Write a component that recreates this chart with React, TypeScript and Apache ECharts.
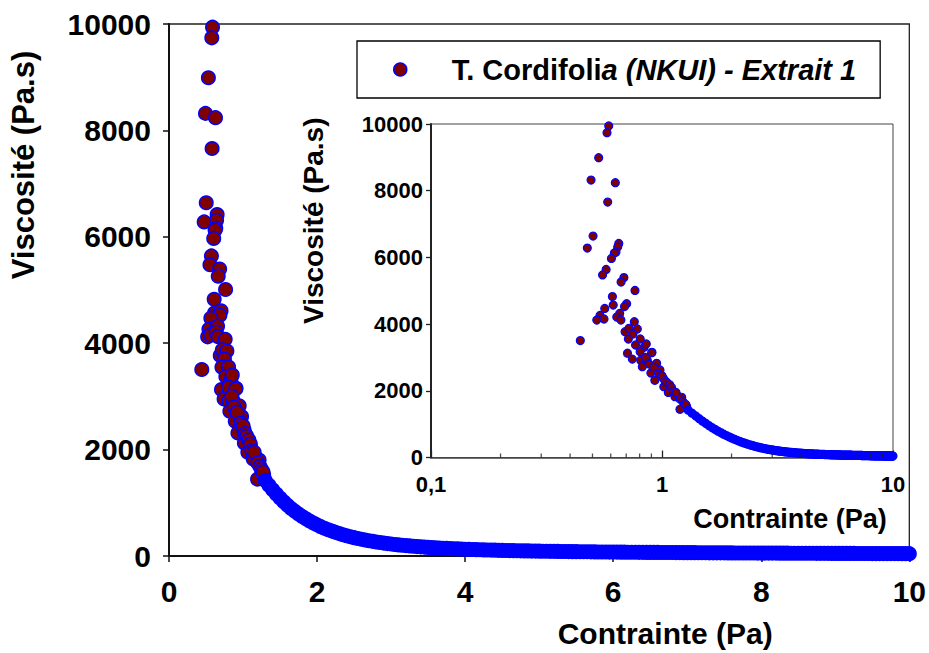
import React, { useEffect, useRef } from 'react';
import * as echarts from 'echarts';

const FONT = "'Liberation Sans', Arial, sans-serif";

// Tick labels
const mainXTicks = ['0', '2', '4', '6', '8', '10'];
const mainYTicks = ['0', '2000', '4000', '6000', '8000', '10000'];
const insetXTicks = ['0,1', '1', '10'];
const insetMinorTicks = [0.2, 0.3, 0.4, 0.5, 0.6, 0.7, 0.8, 0.9, 2, 3, 4, 5, 6, 7, 8, 9];

const seriesName = 'T. Cordifolia (NKUI) - Extrait 1';

// Low-stress scattered measurements (Contrainte, Pa)
const scatterX = [
  0.588, 0.578, 0.532, 0.493, 0.628, 0.582, 0.503, 0.475, 0.650, 0.643,
  0.632, 0.622, 0.604, 0.573, 0.553, 0.684, 0.665, 0.764, 0.610, 0.615,
  0.703, 0.688, 0.565, 0.539, 0.522, 0.561, 0.656, 0.637, 0.664, 0.759,
  0.692, 0.720, 0.782, 0.749, 0.715, 0.805, 0.443, 0.768, 0.836, 0.855,
  0.905, 0.709, 0.744, 0.809, 0.863, 0.804, 0.902, 0.822, 0.948, 0.895,
  0.980, 0.931, 1.013, 1.018, 1.101, 1.065, 1.158, 1.138, 1.217, 1.196,
  1.279, 0.850, 0.880, 0.920, 0.970, 1.000, 1.030, 1.050, 1.080, 1.100,
  1.120, 1.150, 1.200, 1.230, 1.250, 1.270,
];
// Viscosité (Pa.s)
const scatterY = [
  9940, 9740, 8990, 8320, 8240, 7660, 6640, 6280, 6420, 6310,
  6160, 6130, 5970, 5640, 5475, 5395, 5260, 5010, 4825, 4570,
  4610, 4525, 4470, 4260, 4120, 4153, 4320, 4210, 4123, 4072,
  3770, 3874, 3853, 3703, 3550, 3553, 3505, 3373, 3304, 3403,
  3154, 3128, 2950, 2915, 2924, 3173, 3143, 2723, 2824, 2533,
  2624, 2314, 2374, 2123, 2024, 1950, 1874, 1823, 1805, 1445,
  1523, 3000, 2800, 2700, 2500, 2450, 2300, 2250, 2180, 2100,
  1980, 1950, 1750, 1680, 1620, 1580,
];

// Dense high-stress measurements (Contrainte, Pa)
const denseX = [
  1.30, 1.35, 1.40, 1.45, 1.50, 1.55, 1.60, 1.65, 1.70, 1.75, 1.80, 1.85, 1.90, 1.95,
  2.00, 2.05, 2.10, 2.15, 2.20, 2.25, 2.30, 2.35, 2.40, 2.45, 2.50, 2.55, 2.60, 2.65,
  2.70, 2.75, 2.80, 2.85, 2.90, 2.95, 3.00, 3.05, 3.10, 3.15, 3.20, 3.25, 3.30, 3.35,
  3.40, 3.45, 3.50, 3.55, 3.60, 3.65, 3.70, 3.75, 3.80, 3.85, 3.90, 3.95, 4.00, 4.05,
  4.10, 4.15, 4.20, 4.25, 4.30, 4.35, 4.40, 4.45, 4.50, 4.55, 4.60, 4.65, 4.70, 4.75,
  4.80, 4.85, 4.90, 4.95, 5.00, 5.05, 5.10, 5.15, 5.20, 5.25, 5.30, 5.35, 5.40, 5.45,
  5.50, 5.55, 5.60, 5.65, 5.70, 5.75, 5.80, 5.85, 5.90, 5.95, 6.00, 6.05, 6.10, 6.15,
  6.20, 6.25, 6.30, 6.35, 6.40, 6.45, 6.50, 6.55, 6.60, 6.65, 6.70, 6.75, 6.80, 6.85,
  6.90, 6.95, 7.00, 7.05, 7.10, 7.15, 7.20, 7.25, 7.30, 7.35, 7.40, 7.45, 7.50, 7.55,
  7.60, 7.65, 7.70, 7.75, 7.80, 7.85, 7.90, 7.95, 8.00, 8.05, 8.10, 8.15, 8.20, 8.25,
  8.30, 8.35, 8.40, 8.45, 8.50, 8.55, 8.60, 8.65, 8.70, 8.75, 8.80, 8.85, 8.90, 8.95,
  9.00, 9.05, 9.10, 9.15, 9.20, 9.25, 9.30, 9.35, 9.40, 9.45, 9.50, 9.55, 9.60, 9.65,
  9.70, 9.75, 9.80, 9.85, 9.90, 9.95, 10.00,
];
const denseY = [
  1420, 1330, 1245, 1165, 1090, 1020, 955, 895, 840, 790, 742, 698, 657, 620,
  585, 552, 522, 494, 468, 444, 421, 400, 380, 362, 345, 329, 314, 300,
  287, 275, 264, 253, 243, 234, 225, 217, 209, 202, 195, 189, 183, 177,
  172, 167, 162, 158, 154, 150, 146, 142, 139, 136, 133, 130, 127, 124,
  122, 119, 117, 115, 113, 111, 109, 107, 105, 104, 102, 100, 99, 97,
  96, 95, 93, 92, 91, 90, 89, 88, 87, 86, 85, 84, 83, 82,
  81, 80, 79, 79, 78, 77, 76, 76, 75, 74, 74, 73, 72, 72,
  71, 71, 70, 69, 69, 68, 68, 67, 67, 66, 66, 65, 65, 64,
  64, 63, 63, 62, 62, 61, 61, 61, 60, 60, 59, 59, 59, 58,
  58, 57, 57, 57, 56, 56, 56, 55, 55, 55, 54, 54, 54, 53,
  53, 53, 52, 52, 52, 52, 51, 51, 51, 50, 50, 50, 50, 49,
  49, 49, 48, 48, 48, 48, 47, 47, 47, 47, 46, 46, 46, 46,
  45, 45, 45, 45, 44, 44, 44,
];

const RED = '#800000';
const BLUE = '#0000ff';

function pairs(xs: number[], ys: number[]) {
  return xs.map((x, i) => [x, ys[i]]);
}

function buildOption() {
  const scatterData = pairs(scatterX, scatterY);
  const denseData = pairs(denseX, denseY);
  const bold = { fontFamily: FONT, fontWeight: 'bold' as const, color: '#000' };
  return {
    animation: false,
    backgroundColor: '#fff',
    legend: {
      left: 357,
      top: 41,
      data: [seriesName],
      icon: 'circle',
      itemWidth: 13,
      itemHeight: 13,
      padding: [14, 24, 14, 36],
      borderColor: '#000',
      borderWidth: 1.3,
      selectedMode: false,
      itemStyle: { color: RED, borderColor: BLUE, borderWidth: 1.5 },
      formatter: () => '{n|T. Cordifoli}{i|a (NKUI) - Extrait 1}',
      textStyle: {
        ...bold,
        fontSize: 29,
        rich: {
          n: { ...bold, fontSize: 29, padding: [0, 0, 0, 40] },
          i: { ...bold, fontSize: 29, fontStyle: 'italic' },
        },
      },
    },
    grid: [
      { left: 167, top: 24, width: 744, height: 535, show: true, borderColor: '#222', borderWidth: 1.3 },
      { left: 431, top: 124, width: 462, height: 333.5, show: true, borderColor: '#444', borderWidth: 1 },
    ],
    xAxis: [
      {
        gridIndex: 0,
        type: 'value',
        min: 0,
        max: 10,
        interval: 2,
        name: 'Contrainte (Pa)',
        nameLocation: 'middle',
        nameGap: 62,
        nameTextStyle: { ...bold, fontSize: 30, padding: [0, 0, 0, 252] },
        axisLine: { show: true, lineStyle: { color: '#111', width: 2 } },
        axisTick: { show: true, length: 6, lineStyle: { color: '#111', width: 1.5 } },
        axisLabel: {
          ...bold,
          fontSize: 30,
          margin: 20,
          formatter: (v: number) => mainXTicks[Math.round(v / 2)] ?? String(v),
        },
        splitLine: { show: false },
      },
      {
        gridIndex: 1,
        type: 'log',
        logBase: 10,
        min: 0.1,
        max: 10,
        name: 'Contrainte (Pa)',
        nameLocation: 'middle',
        nameGap: 48,
        nameTextStyle: { ...bold, fontSize: 27, padding: [0, 0, 0, 256] },
        axisLine: { show: true, lineStyle: { color: '#444', width: 1.5 } },
        axisTick: { show: true, inside: true, length: 7, lineStyle: { color: '#222', width: 1.3 } },
        axisLabel: {
          ...bold,
          fontSize: 22,
          margin: 16,
          formatter: (v: number) => {
            const idx = Math.round(Math.log10(v)) + 1;
            return insetXTicks[idx] ?? String(v).replace('.', ',');
          },
        },
        splitLine: { show: false },
      },
    ],
    yAxis: [
      {
        gridIndex: 0,
        type: 'value',
        min: 0,
        max: 10000,
        interval: 2000,
        name: 'Viscosité (Pa.s)',
        nameLocation: 'middle',
        nameGap: 130,
        nameTextStyle: { ...bold, fontSize: 31, padding: [0, 0, 0, 250] },
        axisLine: { show: true, lineStyle: { color: '#111', width: 2 } },
        axisTick: { show: true, length: 6, lineStyle: { color: '#111', width: 1.5 } },
        axisLabel: {
          ...bold,
          fontSize: 30,
          margin: 18,
          formatter: (v: number) => mainYTicks[Math.round(v / 2000)] ?? String(v),
        },
        splitLine: { show: false },
      },
      {
        gridIndex: 1,
        type: 'value',
        min: 0,
        max: 10000,
        interval: 2000,
        name: 'Viscosité (Pa.s)',
        nameLocation: 'middle',
        nameGap: 104,
        nameTextStyle: { ...bold, fontSize: 28, padding: [0, 0, 0, 140] },
        axisLine: { show: true, lineStyle: { color: '#222', width: 2 } },
        axisTick: { show: true, length: 5, lineStyle: { color: '#222', width: 1.3 } },
        axisLabel: {
          ...bold,
          fontSize: 22,
          margin: 8,
          formatter: (v: number) => mainYTicks[Math.round(v / 2000)] ?? String(v),
        },
        splitLine: { show: false },
      },
    ],
    series: [
      {
        name: seriesName,
        type: 'scatter',
        xAxisIndex: 0,
        yAxisIndex: 0,
        data: scatterData,
        symbol: 'circle',
        symbolSize: 13.5,
        itemStyle: { color: RED, borderColor: BLUE, borderWidth: 1.5, opacity: 1 },
        silent: true,
      },
      {
        name: 'dense-main',
        type: 'scatter',
        xAxisIndex: 0,
        yAxisIndex: 0,
        data: denseData,
        symbol: 'circle',
        symbolSize: 13.5,
        clip: false,
        itemStyle: { color: BLUE, borderColor: BLUE, borderWidth: 1.5, opacity: 1 },
        silent: true,
      },
      {
        name: 'inset-scatter',
        type: 'scatter',
        xAxisIndex: 1,
        yAxisIndex: 1,
        data: scatterData,
        symbol: 'circle',
        symbolSize: 8,
        itemStyle: { color: RED, borderColor: BLUE, borderWidth: 1.2, opacity: 1 },
        silent: true,
      },
      {
        name: 'inset-dense',
        type: 'scatter',
        xAxisIndex: 1,
        yAxisIndex: 1,
        data: denseData,
        symbol: 'circle',
        symbolSize: 8,
        clip: false,
        itemStyle: { color: BLUE, borderColor: BLUE, borderWidth: 1.2, opacity: 1 },
        silent: true,
      },
      {
        name: 'inset-minor-ticks',
        type: 'scatter',
        xAxisIndex: 1,
        yAxisIndex: 1,
        data: insetMinorTicks.map((v) => [v, 0]),
        symbol: 'rect',
        symbolSize: [1.3, 4],
        symbolOffset: [0, -2],
        clip: false,
        itemStyle: { color: '#222' },
        silent: true,
        z: 5,
      },
    ],
  };
}

export default function App() {
  const ref = useRef<HTMLDivElement>(null);
  useEffect(() => {
    if (!ref.current) return;
    const chart = echarts.init(ref.current, null, { renderer: 'svg' });
    chart.setOption(buildOption() as any);
    return () => chart.dispose();
  }, []);
  return (
    <div
      ref={ref}
      style={{ position: 'fixed', left: 0, top: 0, width: 929, height: 653, background: '#fff' }}
    />
  );
}
